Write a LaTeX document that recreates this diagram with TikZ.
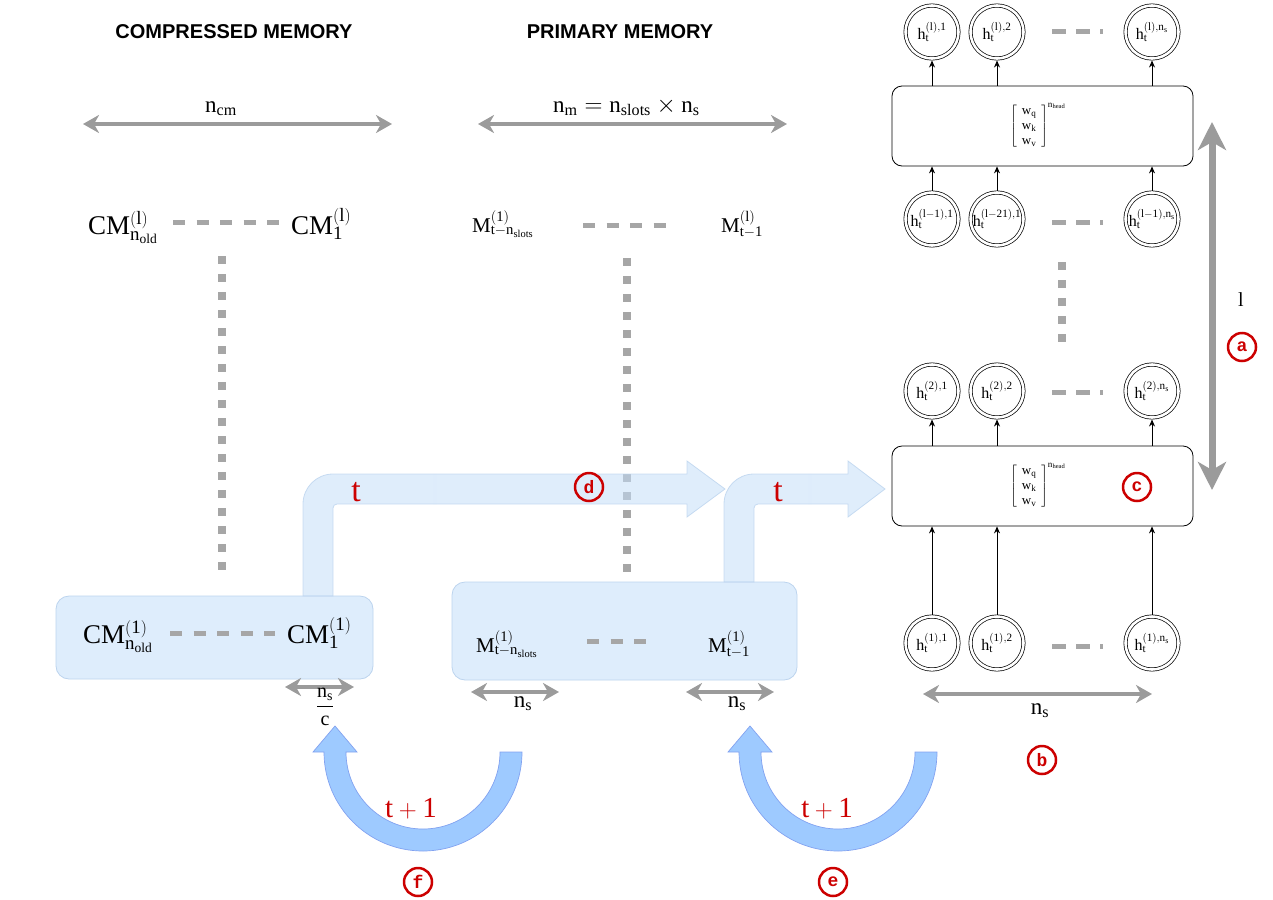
\documentclass[tikz,border=0pt]{standalone}
\usepackage{fontspec}
\setmainfont{Liberation Serif}
\newfontfamily\titlefont{Liberation Sans}
\newfontfamily\tagfont{Liberation Mono}
\usetikzlibrary{arrows.meta}
\definecolor{gline}{RGB}{155,155,155}
\definecolor{gdash}{RGB}{166,166,166}
\definecolor{redc}{RGB}{204,0,0}
\definecolor{boxfill}{RGB}{222,237,252}
\definecolor{boxline}{RGB}{188,212,238}
\definecolor{tblue}{RGB}{196,222,248}
\definecolor{ufill}{RGB}{158,202,255}
\definecolor{uline}{RGB}{130,162,240}
\newcommand\fsz[1]{\fontsize{#1}{#1}\selectfont}
\begin{document}
\begin{tikzpicture}[x=1pt,y=-1pt,
  title/.style={inner sep=0pt,font=\titlefont\bfseries\fsz{20}},
  lab/.style={inner sep=0pt},
  cmlab/.style={lab,anchor=base west,font=\fsz{27}},
  mlab/.style={lab,anchor=base west,font=\fsz{21}},
  dimlab/.style={lab,anchor=base,font=\fsz{23}},
  dimarrow/.style={draw=gline,line width=4pt,
    {Stealth[length=16pt,width=18pt,inset=5pt]}-{Stealth[length=16pt,width=18pt,inset=5pt]}},
  bigarrow/.style={draw=gline,line width=7pt,
    {Stealth[length=28pt,width=28pt,inset=8pt]}-{Stealth[length=28pt,width=28pt,inset=8pt]}},
  memline/.style={draw=gline,double=white,double distance=3.2pt,line width=0.8pt},
  dotline/.style={draw=gdash,line width=8pt,dash pattern=on 8pt off 10pt},
  dashrow/.style={draw=gdash,line width=5pt,dash pattern=on 12pt off 11.5pt},
  membox/.style={fill=boxfill,draw=boxline,line width=0.8pt,rounded corners=13pt,inner sep=0pt},
  tarrow/.style={fill=tblue,fill opacity=0.55,draw=boxline,draw opacity=0.8,line width=0.8pt},
  uarrow/.style={fill=ufill,draw=uline,line width=0.7pt},
  hnode/.style={circle,draw,double,double distance=2.6pt,line width=0.7pt,
    minimum size=53pt,inner sep=0pt,outer sep=2pt,font=\fsz{16}},
  layer/.style={draw,line width=0.8pt,rounded corners=10pt,inner sep=0pt},
  matx/.style={anchor=west,inner sep=0pt,font={\fontsize{13}{15}\selectfont}},
  uparrow/.style={-{Stealth[length=7pt,width=6pt]},line width=0.8pt},
  tag/.style={circle,draw=redc,line width=2.5pt,minimum size=28pt,inner sep=0pt,
    text=redc,font=\tagfont\bfseries\fsz{18}},
  redt/.style={lab,anchor=base,text=redc,font=\fsz{34}},
  redtp/.style={lab,anchor=base,text=redc,font=\fsz{29}}
]
\useasboundingbox (0,0) rectangle (1273,899);

% titles
\node[title] (ttlcm) at (234,32) {COMPRESSED MEMORY};
\node[title] (ttlpm) at (620,32) {PRIMARY MEMORY};

% dimension arrows at top
\coordinate (ncmL) at (83,124); \coordinate (ncmR) at (392,124);
\draw[dimarrow] (ncmL) -- (ncmR);
\node[dimlab] (ncm) at (221,112) {$\mathrm{n_{cm}}$};
\coordinate (nmL) at (478,124); \coordinate (nmR) at (787,124);
\draw[dimarrow] (nmL) -- (nmR);
\node[lab,anchor=base west,font=\fsz{23}] (nm) at (553,112) {$\mathrm{n_m = n_{slots}\times n_s}$};

% memory separator lines
\coordinate (v1t) at (26,155); \coordinate (v1b) at (26,765);
\coordinate (v2t) at (435,155); \coordinate (v2b) at (435,765);
\coordinate (v3t) at (810,155); \coordinate (v3b) at (810,765);
\draw[memline] (v1t) -- (v1b);
\draw[memline] (v2t) -- (v2b);
\draw[memline] (v3t) -- (v3b);

% compressed memory top row
\node[cmlab] (cmtl) at (88,234) {$\mathrm{CM^{(l)}_{n_{old}}}$};
\node[cmlab] (cmtr) at (291,234) {$\mathrm{CM^{(l)}_{1}}$};
\coordinate (cmd1) at (173,222); \coordinate (cmd2) at (279,222);
\draw[dashrow] (cmd1) -- (cmd2);
\coordinate (cmv1) at (222,256); \coordinate (cmv2) at (222,574);
\draw[dotline] (cmv1) -- (cmv2);

% primary memory top row
\node[mlab] (mtl) at (472,232) {$\mathrm{M^{(1)}_{t-n_{slots}}}$};
\node[mlab] (mtr) at (721,232) {$\mathrm{M^{(l)}_{t-1}}$};
\coordinate (md1) at (583,225); \coordinate (md2) at (668,225);
\draw[dashrow] (md1) -- (md2);
\coordinate (mv1) at (627,258); \coordinate (mv2) at (627,574);
\draw[dotline] (mv1) -- (mv2);

% bottom memory boxes
\node[membox,minimum width=317pt,minimum height=83pt] (cmbox) at (214.5,637.5) {};
\node[cmlab] (cmbl) at (83,643) {$\mathrm{CM^{(1)}_{n_{old}}}$};
\node[cmlab] (cmbr) at (287,643) {$\mathrm{CM^{(1)}_{1}}$};
\coordinate (cbd1) at (170,633); \coordinate (cbd2) at (275,633);
\draw[dashrow] (cbd1) -- (cbd2);

\node[membox,minimum width=345pt,minimum height=98pt] (mbox) at (624.5,631) {};
\node[mlab] (mbl) at (476,652) {$\mathrm{M^{(1)}_{t-n_{slots}}}$};
\node[mlab] (mbr) at (708,652) {$\mathrm{M^{(1)}_{t-1}}$};
\coordinate (mbd1) at (587,641); \coordinate (mbd2) at (647,641);
\draw[dashrow] (mbd1) -- (mbd2);

% small dimension arrows under boxes
\coordinate (a1L) at (285,687); \coordinate (a1R) at (354,687);
\draw[dimarrow,line width=3.5pt] (a1L) -- (a1R);
\node[lab,font=\fsz{20}] (fracl) at (325,707) {$\displaystyle\frac{\mathrm{n_s}}{\mathrm{c}}$};
\coordinate (a2L) at (471,692); \coordinate (a2R) at (559,692);
\draw[dimarrow,line width=3.5pt] (a2L) -- (a2R);
\node[dimlab] (ns1) at (523,707) {$\mathrm{n_s}$};
\coordinate (a3L) at (686,692); \coordinate (a3R) at (774,692);
\draw[dimarrow,line width=3.5pt] (a3L) -- (a3R);
\node[dimlab] (ns2) at (737,707) {$\mathrm{n_s}$};

% light blue bent arrows (t)
\path[tarrow] (303,596) -- (303,504) arc[start angle=180,end angle=90,radius=30pt]
  -- (687,474) -- (687,461) -- (725,489) -- (687,517) -- (687,504)
  -- (337,504) arc[start angle=90,end angle=180,radius=4pt] -- (333,596) -- cycle;
\path[tarrow] (724,582) -- (724,504) arc[start angle=180,end angle=90,radius=30pt]
  -- (848,474) -- (848,461) -- (885,489) -- (848,517) -- (848,504)
  -- (758,504) arc[start angle=90,end angle=180,radius=4pt] -- (754,582) -- cycle;
\node[redt] (tl1) at (356,501) {t};
\node[redt] (tl2) at (778,501) {t};

% U-shaped arrows (t+1)
\path[uarrow] (522,752) arc[start angle=0,end angle=-180,radius=99pt]
  -- (313,752) -- (335,726) -- (357,752) -- (346,752)
  arc[start angle=180,end angle=360,radius=77pt] -- cycle;
\path[uarrow] (937,752) arc[start angle=0,end angle=-180,radius=99pt]
  -- (728,752) -- (750,726) -- (772,752) -- (761,752)
  arc[start angle=180,end angle=360,radius=77pt] -- cycle;
\node[redtp] (tp1) at (411,817) {$\mathrm{t+1}$};
\node[redtp] (tp2) at (827,817) {$\mathrm{t+1}$};

% right: transformer layers
\node[hnode] (t1) at (932,32) {$\mathrm{h_t^{(l),1}}$};
\node[hnode] (t2) at (997,32) {$\mathrm{h_t^{(l),2}}$};
\node[hnode] (t3) at (1152,32) {$\mathrm{h_t^{(l),n_s}}$};
\node[hnode] (m1) at (932,219) {$\mathrm{h_t^{(l-1),1}}$};
\node[hnode] (m2) at (997,219) {$\mathrm{h_t^{(l-21),1}}$};
\node[hnode] (m3) at (1152,219) {$\mathrm{h_t^{(l-1),n_s}}$};
\node[hnode] (s1) at (932,391) {$\mathrm{h_t^{(2),1}}$};
\node[hnode] (s2) at (997,391) {$\mathrm{h_t^{(2),2}}$};
\node[hnode] (s3) at (1152,391) {$\mathrm{h_t^{(2),n_s}}$};
\node[hnode] (b1) at (932,643) {$\mathrm{h_t^{(1),1}}$};
\node[hnode] (b2) at (997,643) {$\mathrm{h_t^{(1),2}}$};
\node[hnode] (b3) at (1152,643) {$\mathrm{h_t^{(1),n_s}}$};

\coordinate (rd1a) at (1052,32) ; \coordinate (rd1b) at (1103,32);
\draw[dashrow,dash pattern=on 14pt off 10pt] (rd1a) -- (rd1b);
\coordinate (rd2a) at (1052,222) ; \coordinate (rd2b) at (1103,222);
\draw[dashrow,dash pattern=on 14pt off 10pt] (rd2a) -- (rd2b);
\coordinate (rd3a) at (1052,392) ; \coordinate (rd3b) at (1103,392);
\draw[dashrow,dash pattern=on 14pt off 10pt] (rd3a) -- (rd3b);
\coordinate (rd4a) at (1052,646) ; \coordinate (rd4b) at (1103,646);
\draw[dashrow,dash pattern=on 14pt off 10pt] (rd4a) -- (rd4b);
\coordinate (rv1) at (1062,262); \coordinate (rv2) at (1062,342);
\draw[dotline] (rv1) -- (rv2);

\node[layer,minimum width=301pt,minimum height=80pt] (L1) at (1042.5,126) {};
\node[matx] (W1) at (1010,126) {$\left[\begin{array}{c}\mathrm{w_q}\\\mathrm{w_k}\\\mathrm{w_v}\end{array}\right]^{\mathrm{n_{head}}}$};
\node[layer,minimum width=301pt,minimum height=80pt] (L2) at (1042.5,486) {};
\node[matx] (W2) at (1010,486) {$\left[\begin{array}{c}\mathrm{w_q}\\\mathrm{w_k}\\\mathrm{w_v}\end{array}\right]^{\mathrm{n_{head}}}$};

\draw[uparrow] (t1 |- L1.north) -- (t1);
\draw[uparrow] (t2 |- L1.north) -- (t2);
\draw[uparrow] (t3 |- L1.north) -- (t3);
\draw[uparrow] (m1) -- (m1 |- L1.south);
\draw[uparrow] (m2) -- (m2 |- L1.south);
\draw[uparrow] (m3) -- (m3 |- L1.south);
\draw[uparrow] (s1 |- L2.north) -- (s1);
\draw[uparrow] (s2 |- L2.north) -- (s2);
\draw[uparrow] (s3 |- L2.north) -- (s3);
\draw[uparrow] (b1) -- (b1 |- L2.south);
\draw[uparrow] (b2) -- (b2 |- L2.south);
\draw[uparrow] (b3) -- (b3 |- L2.south);

\coordinate (nsL) at (923,694); \coordinate (nsR) at (1152,694);
\draw[dimarrow,line width=3.5pt] (nsL) -- (nsR);
\node[dimlab] (ns3) at (1040,714) {$\mathrm{n_s}$};

\coordinate (lT) at (1212,122); \coordinate (lB) at (1212,490);
\draw[bigarrow] (lT) -- (lB);
\node[lab,font=\fsz{20}] (llab) at (1241,300) {l};

% tags
\node[tag] (taga) at (1242,347) {a};
\node[tag] (tagb) at (1042,760) {b};
\node[tag] (tagc) at (1137,487) {c};
\node[tag] (tagd) at (589,487) {d};
\node[tag] (tage) at (833,882) {e};
\node[tag] (tagf) at (418,882) {f};
\end{tikzpicture}
\end{document}
